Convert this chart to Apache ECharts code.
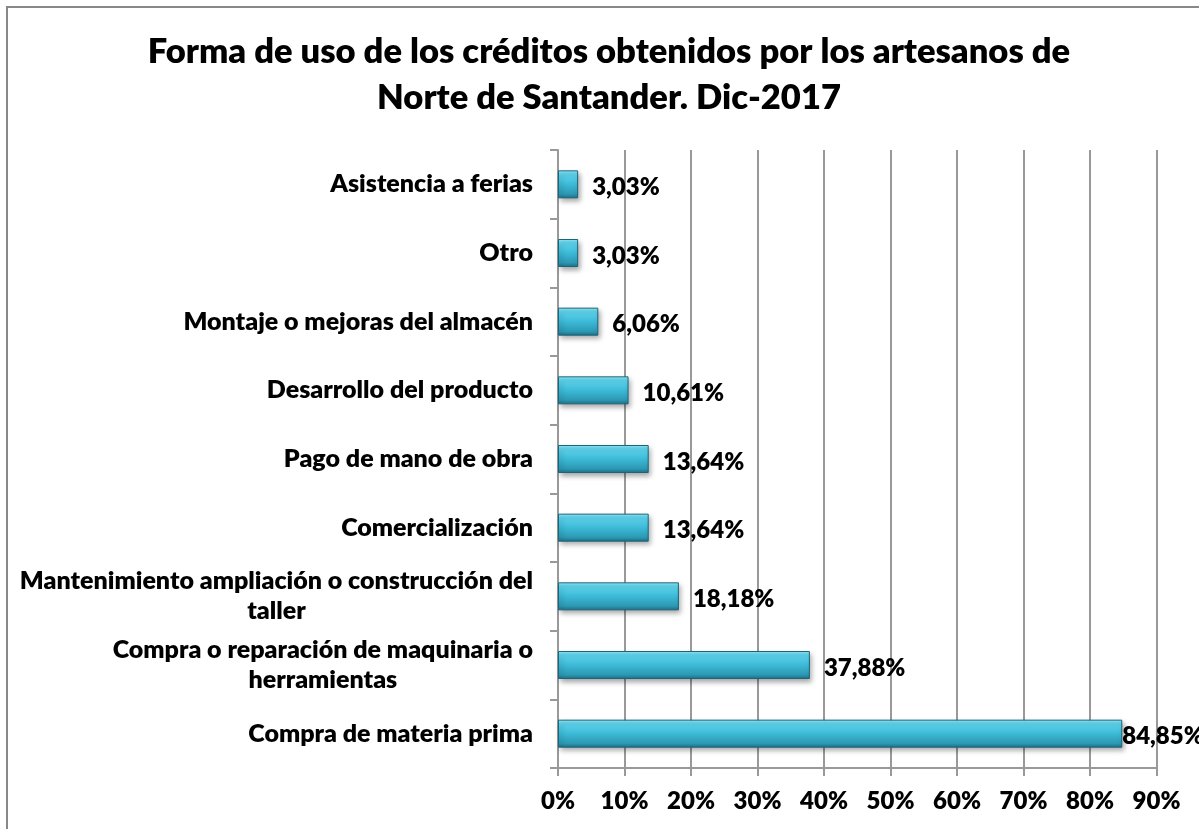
<!DOCTYPE html>
<html>
<head>
<meta charset="utf-8">
<script src="https://cdn.jsdelivr.net/npm/echarts@6/dist/echarts.min.js"></script>
<style>
  html, body { margin: 0; padding: 0; background: #ffffff; }
  #chart { width: 1199px; height: 829px; }
</style>
</head>
<body>
<div id="chart"></div>
<script>
// Uses of the credits, listed bottom-to-top as drawn on the category axis
const categories = [
  'Compra de materia prima',
  'Compra o reparación de maquinaria o\nherramientas',
  'Mantenimiento ampliación o construcción del\ntaller',
  'Comercialización',
  'Pago de mano de obra',
  'Desarrollo del producto',
  'Montaje o mejoras del almacén',
  'Otro',
  'Asistencia a ferias'
];
// Share of artisans (%)
const shares = [84.85, 37.88, 18.18, 13.64, 13.64, 10.61, 6.06, 3.03, 3.03];
const titleLines = [
  'Forma de uso de los créditos obtenidos por los artesanos de',
  'Norte de Santander. Dic-2017'
];

const FONT = 'Lato';
const WEIGHT = 800;
const chart = echarts.init(document.getElementById('chart'), null, { renderer: 'canvas' });

const fmtPct = v => v.toFixed(2).replace('.', ',') + '%';

const barData = shares.map(v => {
  const item = { value: v };
  // the longest bar reaches the plot edge, so its label hugs the bar end
  if (v === Math.max.apply(null, shares)) {
    item.label = { distance: 0 };
  }
  return item;
});

chart.setOption({
  backgroundColor: '#ffffff',
  animation: false,
  title: {
    text: titleLines.join('\n'),
    left: 604,
    textAlign: 'center',
    top: 24,
    textStyle: {
      fontFamily: FONT,
      fontWeight: WEIGHT,
      fontSize: 34.5,
      lineHeight: 46,
      color: '#000000'
    }
  },
  // frame of the chart area (its right and bottom sides run off the page)
  graphic: [{
    type: 'rect',
    shape: { x: 7, y: 7, width: 1220, height: 850 },
    style: { fill: 'none', stroke: '#888888', lineWidth: 2 },
    silent: true
  }],
  grid: { left: 558, right: 42.5, top: 150, bottom: 61, containLabel: false },
  xAxis: {
    type: 'value',
    min: 0,
    max: 90,
    interval: 10,
    axisLine: { show: true, lineStyle: { color: '#999999', width: 2 } },
    axisTick: { show: true, length: 8, lineStyle: { color: '#999999', width: 2 } },
    splitLine: { show: true, lineStyle: { color: '#999999', width: 2 } },
    axisLabel: {
      formatter: '{value}%',
      fontFamily: FONT,
      fontWeight: WEIGHT,
      fontSize: 24,
      color: '#000000',
      margin: 21
    }
  },
  yAxis: {
    type: 'category',
    data: categories,
    axisLine: { show: true, lineStyle: { color: '#999999', width: 2 } },
    axisTick: { show: true, length: 8, lineStyle: { color: '#999999', width: 2 } },
    axisLabel: {
      margin: 25,
      formatter: v => v.split('\n').map(s => '{c|' + s + '}').join('\n'),
      rich: {
        c: {
          align: 'center',
          fontFamily: FONT,
          fontWeight: WEIGHT,
          fontSize: 25,
          lineHeight: 30,
          color: '#000000'
        }
      }
    }
  },
  series: [{
    type: 'bar',
    data: barData,
    barWidth: 28,
    itemStyle: {
      color: new echarts.graphic.LinearGradient(0, 0, 0, 1, [
        { offset: 0, color: '#9aeefb' },
        { offset: 0.12, color: '#62d6ef' },
        { offset: 0.5, color: '#3cbad7' },
        { offset: 0.85, color: '#2c98b3' },
        { offset: 1, color: '#1f6e85' }
      ]),
      borderColor: '#1d6478',
      borderWidth: 1,
      shadowColor: 'rgba(0,0,0,0.35)',
      shadowBlur: 5,
      shadowOffsetX: 2,
      shadowOffsetY: 3
    },
    label: {
      show: true,
      position: 'right',
      distance: 14,
      offset: [0, 3],
      formatter: p => fmtPct(p.value),
      fontFamily: FONT,
      fontWeight: WEIGHT,
      fontSize: 24,
      color: '#000000'
    }
  }]
});
</script>
</body>
</html>
